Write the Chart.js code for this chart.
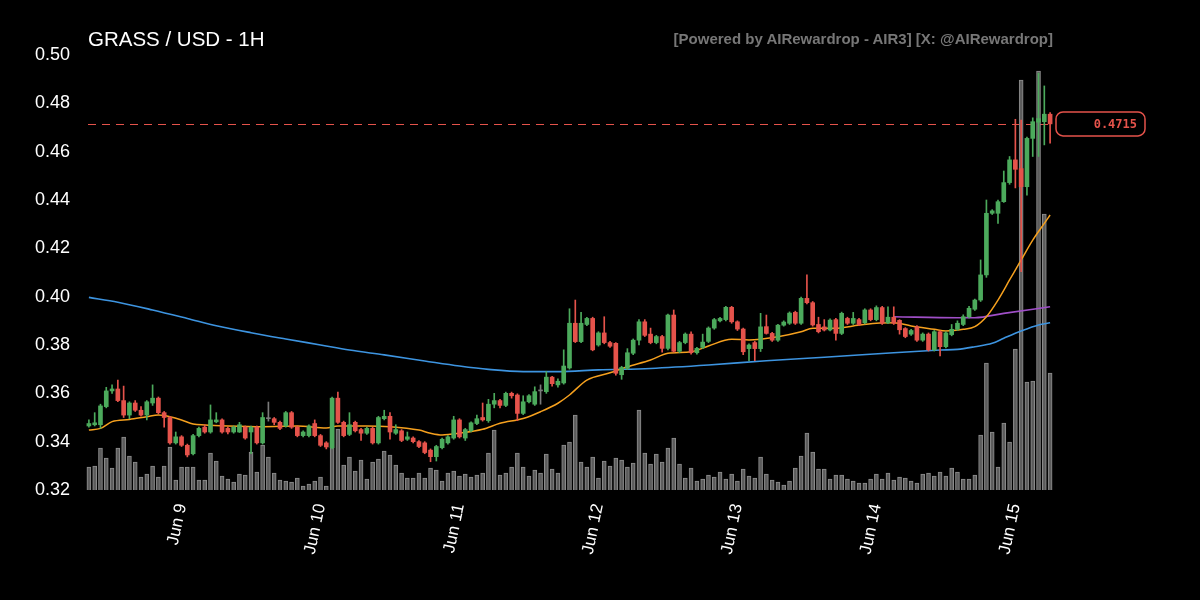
<!DOCTYPE html>
<html>
<head>
<meta charset="utf-8">
<script src="https://cdn.jsdelivr.net/npm/chart.js@4.4.1/dist/chart.umd.min.js"></script>
<style>
html,body{margin:0;padding:0;background:#000;}
#wrap{position:relative;width:1200px;height:600px;background:#000;overflow:hidden;}
#c{position:absolute;left:0;top:0;}
#title{position:absolute;left:88px;top:27px;font:20.5px "Liberation Sans",Arial,sans-serif;color:#fff;white-space:nowrap;line-height:24px;}
#credit{position:absolute;right:147px;top:30px;font:bold 15px "Liberation Sans",Arial,sans-serif;color:#777;white-space:nowrap;line-height:18px;}
</style>
</head>
<body>
<div id="wrap">
<canvas id="c" width="1200" height="600"></canvas>
<div id="title">GRASS / USD - 1H</div>
<div id="credit">[Powered by AIRewardrop - AIR3] [X: @AIRewardrop]</div>
</div>
<script>
// ---- data (hourly candles, Jun 8 08:00 -> Jun 15 06:00) ----
const opens = [
.3465,.3470,.3470,.3545,.3610,.3618,.3570,.3510,.3560,.3530,
.3510,.3560,.3580,.3520,.3500,.3395,.3420,.3385,.3350,.3425,
.3460,.3440,.3482,.3490,.3455,.3440,.3440,.3460,.3440,.3460,
.3395,.3495,.3495,.3480,.3465,.3520,.3460,.3425,.3425,.3475,
.3425,.3395,.3375,.3580,.3480,.3430,.3480,.3450,.3435,.3455,
.3395,.3495,.3505,.3435,.3445,.3410,.3415,.3400,.3395,.3365,
.3338,.3375,.3395,.3415,.3490,.3415,.3445,.3475,.3500,.3487,
.3555,.3570,.3550,.3600,.3593,.3517,.3565,.3555,.3610,.3607,
.3667,.3635,.3643,.3705,.3890,.3814,.3885,.3910,.3800,.3850,
.3810,.3807,.3677,.3703,.3766,.3820,.3896,.3845,.3810,.3835,
.3786,.3924,.3774,.3810,.3845,.3768,.3790,.3815,.3870,.3900,
.3905,.3956,.3896,.3866,.3785,.3810,.3785,.3876,.3848,.3820,
.3882,.3890,.3935,.3890,.3993,.3975,.3885,.3875,.3862,.3905,
.3848,.3910,.3890,.3905,.3892,.3945,.3905,.3955,.3892,.3915,
.3902,.3868,.3845,.3875,.3820,.3845,.3780,.3855,.3793,.3843,
.3865,.3885,.3917,.3948,.3986,.4090,.4345,.4345,.4393,.4472,
.4566,.4530,.4455,.4655,.4722,.4724,.4755];
const closes = [
.3475,.3478,.3548,.3610,.3618,.3570,.3510,.3560,.3530,.3510,
.3565,.3580,.3520,.3500,.3395,.3420,.3385,.3345,.3425,.3455,
.3440,.3490,.3490,.3440,.3440,.3460,.3470,.3415,.3460,.3395,
.3500,.3495,.3480,.3455,.3520,.3460,.3425,.3440,.3465,.3425,
.3385,.3378,.3580,.3480,.3425,.3470,.3445,.3435,.3455,.3395,
.3500,.3505,.3440,.3450,.3405,.3420,.3400,.3380,.3355,.3338,
.3380,.3410,.3420,.3490,.3420,.3450,.3478,.3495,.3490,.3555,
.3570,.3550,.3600,.3590,.3517,.3565,.3590,.3607,.3610,.3667,
.3640,.3650,.3713,.3890,.3814,.3890,.3910,.3780,.3850,.3810,
.3795,.3683,.3707,.3768,.3820,.3896,.3840,.3810,.3835,.3786,
.3924,.3774,.3810,.3845,.3768,.3786,.3812,.3870,.3905,.3910,
.3956,.3896,.3866,.3772,.3800,.3785,.3875,.3848,.3820,.3882,
.3895,.3932,.3890,.3993,.3975,.3883,.3855,.3862,.3903,.3848,
.3931,.3890,.3910,.3885,.3945,.3905,.3955,.3890,.3915,.3890,
.3863,.3835,.3860,.3820,.3845,.3780,.3855,.3793,.3850,.3865,
.3890,.3917,.3952,.3986,.4090,.4345,.4355,.4393,.4472,.4566,
.4527,.4455,.4655,.4724,.4737,.4755,.4715];
const highs = [
.3490,.3520,.3555,.3625,.3635,.3655,.3630,.3565,.3570,.3545,
.3570,.3635,.3585,.3525,.3505,.3440,.3425,.3390,.3430,.3460,
.3470,.3552,.3520,.3495,.3460,.3465,.3480,.3465,.3465,.3465,
.3520,.3564,.3500,.3485,.3525,.3525,.3465,.3445,.3470,.3490,
.3430,.3400,.3585,.3605,.3485,.3520,.3485,.3455,.3460,.3460,
.3505,.3530,.3520,.3470,.3450,.3440,.3420,.3405,.3400,.3370,
.3385,.3415,.3425,.3505,.3495,.3455,.3482,.3510,.3560,.3575,
.3600,.3575,.3605,.3605,.3598,.3590,.3595,.3627,.3635,.3690,
.3670,.3660,.3780,.3950,.3986,.3935,.3915,.3915,.3855,.3917,
.3815,.3810,.3712,.3785,.3825,.3905,.3905,.3870,.3840,.3840,
.3928,.3945,.3815,.3850,.3855,.3790,.3845,.3875,.3910,.3915,
.3960,.3960,.3900,.3870,.3805,.3815,.3931,.3924,.3852,.3886,
.3900,.3937,.3940,.3998,.4090,.3980,.3915,.3905,.3908,.3910,
.3936,.3915,.3935,.3910,.3950,.3950,.3962,.3960,.3958,.3958,
.3905,.3872,.3865,.3880,.3850,.3850,.3860,.3860,.3855,.3885,
.3900,.3925,.3960,.3990,.4152,.4400,.4360,.4400,.4520,.4580,
.4734,.4731,.4660,.4740,.4925,.4872,.4762];
const lows = [
.3460,.3465,.3455,.3540,.3600,.3565,.3500,.3495,.3525,.3505,
.3490,.3550,.3515,.3460,.3390,.3390,.3380,.3337,.3345,.3420,
.3435,.3435,.3478,.3435,.3432,.3435,.3438,.3410,.3350,.3390,
.3390,.3485,.3470,.3450,.3460,.3455,.3420,.3420,.3420,.3420,
.3380,.3370,.3370,.3475,.3420,.3425,.3440,.3405,.3430,.3390,
.3390,.3490,.3410,.3430,.3400,.3405,.3395,.3375,.3350,.3317,
.3320,.3370,.3390,.3410,.3415,.3405,.3440,.3470,.3485,.3480,
.3540,.3540,.3545,.3580,.3487,.3512,.3560,.3550,.3555,.3600,
.3630,.3625,.3638,.3700,.3810,.3810,.3880,.3776,.3795,.3805,
.3790,.3675,.3658,.3698,.3760,.3800,.3835,.3805,.3805,.3770,
.3780,.3770,.3768,.3805,.3762,.3762,.3785,.3810,.3865,.3895,
.3900,.3890,.3860,.3760,.3735,.3735,.3773,.3845,.3815,.3815,
.3878,.3885,.3885,.3885,.3970,.3878,.3850,.3858,.3858,.3820,
.3843,.3885,.3885,.3880,.3887,.3900,.3900,.3885,.3888,.3885,
.3845,.3830,.3840,.3815,.3815,.3775,.3775,.3755,.3788,.3838,
.3860,.3880,.3912,.3943,.3980,.4080,.4340,.4303,.4390,.4465,
.4450,.4103,.4420,.4580,.4580,.4628,.4635];
const volumes = [
23,24,42,32,22,42,53,34,28,13,16,24,13,24,43,10,23,23,23,10,10,37,29,14,11,8,16,15,
38,18,45,33,17,10,9,8,12,4,6,9,13,4,62,61,25,33,19,30,11,28,31,39,35,25,17,12,12,17,12,22,
20,9,17,19,14,16,13,15,17,37,60,15,17,23,37,23,14,20,17,36,21,17,45,48,75,28,23,
33,12,29,24,32,30,23,27,80,37,26,36,28,42,52,26,12,22,9,11,15,13,18,11,16,9,21,14,12,33,
16,10,8,5,9,22,34,57,38,21,21,11,15,15,11,9,7,7,11,16,11,17,10,13,12,9,7,16,17,14,
18,14,22,18,11,11,15,55,127,58,23,67,48,141,410,108,109,419,276,117];

const emaIdx = [0,2,4,7,10,12,14,16,18,20,24,30,36,41,43,48,52,57,59,61,64,68,71,75,78,81,83,86,90,93,97,100,104,107,111,114,116,119,123,125,129,132,136,139,142,146,148,151,153,155,157,159,161,163,165,166];
const emaVal = [.3448,.3455,.3483,.3492,.3503,.3510,.3503,.3490,.3473,.3469,.3465,.3462,.3465,.3457,.3465,.3465,.3462,.3448,.3435,.3428,.3435,.3451,.3476,.3496,.3524,.3559,.3593,.3655,.3685,.3710,.3738,.3766,.3772,.3796,.3824,.3821,.3824,.3834,.3855,.3869,.3869,.3879,.3890,.3892,.3879,.3865,.3858,.3865,.3876,.3917,.3986,.4069,.4152,.4234,.4303,.4338];
const ma200Idx = [0,5,11,17,22,28,34,40,45,51,58,64,69,75,81,88,97,107,117,127,139,147,150,153,156,158,161,164,166];
const ma200Val = [.3997,.3977,.3945,.3910,.3880,.3851,.3825,.3800,.3779,.3759,.3734,.3713,.3699,.3690,.3690,.3697,.3703,.3717,.3735,.3749,.3768,.3779,.3782,.3793,.3807,.3828,.3858,.3883,.3892];
const ma100Idx = [139,150,153,158,166];
const ma100Val = [.3917,.3913,.3913,.3931,.3958];

const tickIdx = [16,40,64,88,112,136,160];
const tickLabels = ['Jun 9','Jun 10','Jun 11','Jun 12','Jun 13','Jun 14','Jun 15'];

// ---- build ----
const N = opens.length;
const labels = [];
for (let i = 0; i < N; i++) {
  const h = (8 + i) % 24;
  const day = 8 + Math.floor((8 + i) / 24);
  labels.push('Jun ' + day + ' ' + String(h).padStart(2, '0') + ':00');
}
const UP = '#4caa5c', DOWN = '#e5534b', FLAT = '#7a7a7a';
const candleColors = opens.map((o, i) => closes[i] > o ? UP : (closes[i] < o ? DOWN : FLAT));
function sparse(idx, vals) {
  const a = new Array(N).fill(null);
  idx.forEach((k, j) => { a[k] = vals[j]; });
  return a;
}
const lastPrice = closes[N - 1];
const FONT = '"Liberation Sans", Arial, sans-serif';

const priceTag = {
  id: 'priceTag',
  beforeDatasetsDraw(chart) {
    const ctx = chart.ctx, a = chart.chartArea;
    const y = Math.round(chart.scales.y.getPixelForValue(lastPrice)) + 0.5;
    ctx.save();
    ctx.strokeStyle = DOWN;
    ctx.lineWidth = 1.2;
    ctx.setLineDash([8, 6]);
    ctx.beginPath();
    ctx.moveTo(a.left + 2, y);
    ctx.lineTo(a.right, y);
    ctx.stroke();
    ctx.restore();
  },
  afterDatasetsDraw(chart) {
    const ctx = chart.ctx, a = chart.chartArea;
    const y = chart.scales.y.getPixelForValue(lastPrice);
    const x = a.right + 3, w = 89, h = 24;
    ctx.save();
    ctx.beginPath();
    ctx.roundRect(x, y - h / 2, w, h, 7);
    ctx.fillStyle = '#000';
    ctx.fill();
    ctx.lineWidth = 1.5;
    ctx.strokeStyle = DOWN;
    ctx.stroke();
    ctx.fillStyle = DOWN;
    ctx.font = 'bold 12px "DejaVu Sans Mono", "Liberation Mono", monospace';
    ctx.textAlign = 'right';
    ctx.textBaseline = 'middle';
    ctx.fillText(lastPrice.toFixed(4), x + w - 8, y + 1);
    ctx.restore();
  }
};

new Chart(document.getElementById('c'), {
  type: 'bar',
  data: {
    labels: labels,
    datasets: [
      { type: 'bar', label: 'Volume', data: volumes, yAxisID: 'yv', grouped: false, order: 5,
        backgroundColor: 'rgba(96,96,96,0.95)', borderColor: '#8c8c8c', borderWidth: 1, barThickness: 4 },
      { type: 'line', label: 'MA200', data: sparse(ma200Idx, ma200Val), yAxisID: 'y', order: 3,
        borderColor: '#3d94e0', borderWidth: 1.6, pointRadius: 0, spanGaps: true, cubicInterpolationMode: 'monotone' },
      { type: 'line', label: 'MA100', data: sparse(ma100Idx, ma100Val), yAxisID: 'y', order: 3,
        borderColor: '#a04fc8', borderWidth: 1.6, pointRadius: 0, spanGaps: true, cubicInterpolationMode: 'monotone' },
      { type: 'line', label: 'EMA', data: sparse(emaIdx, emaVal), yAxisID: 'y', order: 2,
        borderColor: '#f5a01e', borderWidth: 1.5, pointRadius: 0, spanGaps: true, cubicInterpolationMode: 'monotone' },
      { type: 'bar', label: 'Wick', data: lows.map((l, i) => [l, highs[i]]), yAxisID: 'y', grouped: false, order: 1,
        backgroundColor: candleColors, barThickness: 1 },
      { type: 'bar', label: 'Body', data: opens.map((o, i) => [o, closes[i]]), yAxisID: 'y', grouped: false, order: 0,
        backgroundColor: candleColors, barThickness: 4, minBarLength: 1 }
    ]
  },
  options: {
    responsive: false,
    animation: false,
    layout: { padding: { top: 55, right: 147, left: 0, bottom: 0 } },
    plugins: { legend: { display: false }, tooltip: { enabled: false } },
    scales: {
      x: {
        grid: { display: false, drawTicks: false },
        border: { display: false },
        ticks: {
          autoSkip: false, minRotation: 78, maxRotation: 78, padding: 12,
          color: '#ffffff', font: { size: 17, family: FONT },
          callback: (v, i) => { const k = tickIdx.indexOf(i); return k >= 0 ? tickLabels[k] : ''; }
        },
        afterFit: s => { s.height = 110; }
      },
      y: {
        position: 'left', min: 0.32, max: 0.50,
        grid: { display: false, drawTicks: false },
        border: { display: false },
        ticks: { stepSize: 0.02, padding: 16, color: '#ffffff', font: { size: 18, family: FONT },
          callback: v => Number(v).toFixed(2) },
        afterFit: s => { s.width = 86; }
      },
      yv: { display: false, min: 0, max: 435 }
    }
  },
  plugins: [priceTag]
});
</script>
</body>
</html>
